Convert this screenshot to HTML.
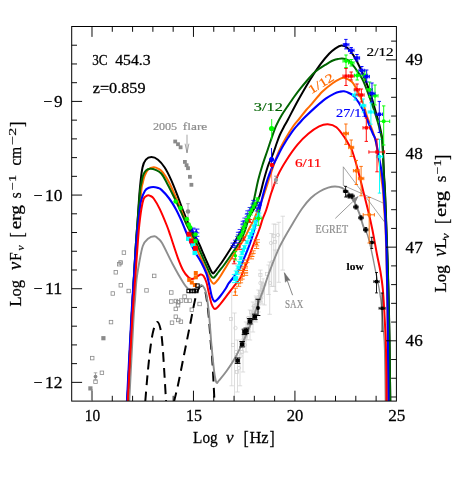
<!DOCTYPE html>
<html><head><meta charset="utf-8"><title>3C 454.3 SED</title>
<style>html,body{margin:0;padding:0;background:#fff}svg{display:block;will-change:transform}text{-webkit-font-smoothing:antialiased}body{font-family:"Liberation Serif",serif}</style>
</head><body>
<svg width="463" height="491" viewBox="0 0 463 491" font-family="'Liberation Serif', serif">
<rect width="463" height="491" fill="#fff"/>
<defs><clipPath id="c"><rect x="71.7" y="26.5" width="324.7" height="374.6"/></clipPath></defs>
<g clip-path="url(#c)">
<path d="M282.8 216.2L282.8 270.1M280.6 216.2L285 216.2M280.6 270.1L285 270.1" stroke="#cfcfcf" stroke-width="0.7" fill="none"/>
<path d="M278.8 222.3L278.8 282.3M276.6 222.3L281 222.3M276.6 282.3L281 282.3" stroke="#cfcfcf" stroke-width="0.7" fill="none"/>
<path d="M275.7 224.3L275.7 291.5M273.5 224.3L277.9 224.3M273.5 291.5L277.9 291.5" stroke="#cfcfcf" stroke-width="0.7" fill="none"/>
<path d="M273.7 224L273.7 286.4M271.5 224L275.9 224M271.5 286.4L275.9 286.4" stroke="#cfcfcf" stroke-width="0.7" fill="none"/>
<path d="M271.6 233.5L271.6 286.4M269.4 233.5L273.8 233.5M269.4 286.4L273.8 286.4" stroke="#cfcfcf" stroke-width="0.7" fill="none"/>
<path d="M268.6 265L268.6 294.5M266.4 265L270.8 265M266.4 294.5L270.8 294.5" stroke="#cfcfcf" stroke-width="0.7" fill="none"/>
<path d="M260.4 270.1L260.4 290.5M258.2 270.1L262.6 270.1M258.2 290.5L262.6 290.5" stroke="#cfcfcf" stroke-width="0.7" fill="none"/>
<path d="M269.7 262L269.7 314.3M267.5 262L271.9 262M267.5 314.3L271.9 314.3" stroke="#cfcfcf" stroke-width="0.7" fill="none"/>
<path d="M275 250L275 291M272.8 250L277.2 250M272.8 291L277.2 291" stroke="#cfcfcf" stroke-width="0.7" fill="none"/>
<path d="M264.5 285L264.5 305M262.3 285L266.7 285M262.3 305L266.7 305" stroke="#cfcfcf" stroke-width="0.7" fill="none"/>
<path d="M231.7 292L231.7 385.8M229.5 292L233.9 292M229.5 385.8L233.9 385.8" stroke="#cfcfcf" stroke-width="0.7" fill="none"/>
<path d="M234.5 313L234.5 404M232.3 313L236.7 313M232.3 404L236.7 404" stroke="#cfcfcf" stroke-width="0.7" fill="none"/>
<path d="M240 353L240 385.8M237.8 353L242.2 353M237.8 385.8L242.2 385.8" stroke="#cfcfcf" stroke-width="0.7" fill="none"/>
<path d="M237.5 340L237.5 392M235.3 340L239.7 340M235.3 392L239.7 392" stroke="#cfcfcf" stroke-width="0.7" fill="none"/>
<path d="M243 330L243 372M240.8 330L245.2 330M240.8 372L245.2 372" stroke="#cfcfcf" stroke-width="0.7" fill="none"/>
<path d="M246 322L246 352M243.8 322L248.2 322M243.8 352L248.2 352" stroke="#cfcfcf" stroke-width="0.7" fill="none"/>
<path d="M250 310L250 340M247.8 310L252.2 310M247.8 340L252.2 340" stroke="#cfcfcf" stroke-width="0.7" fill="none"/>
<path d="M253 302L253 332M250.8 302L255.2 302M250.8 332L255.2 332" stroke="#cfcfcf" stroke-width="0.7" fill="none"/>
<path d="M256 296L256 322M253.8 296L258.2 296M253.8 322L258.2 322" stroke="#cfcfcf" stroke-width="0.7" fill="none"/>
<path d="M258.5 290L258.5 312M256.3 290L260.7 290M256.3 312L260.7 312" stroke="#cfcfcf" stroke-width="0.7" fill="none"/>
<path d="M262 282L262 304M259.8 282L264.2 282M259.8 304L264.2 304" stroke="#cfcfcf" stroke-width="0.7" fill="none"/>
<path d="M242.58 333L242.58 344.62M240.98 333L244.18 333M240.98 344.62L244.18 344.62" stroke="#d4d4d4" stroke-width="0.7" fill="none"/>
<path d="M244.09 334.37L244.09 345.2M242.49 334.37L245.69 334.37M242.49 345.2L245.69 345.2" stroke="#d4d4d4" stroke-width="0.7" fill="none"/>
<path d="M243.89 331.99L243.89 340.79M242.29 331.99L245.49 331.99M242.29 340.79L245.49 340.79" stroke="#d4d4d4" stroke-width="0.7" fill="none"/>
<path d="M245.82 331.02L245.82 340.75M244.22 331.02L247.42 331.02M244.22 340.75L247.42 340.75" stroke="#d4d4d4" stroke-width="0.7" fill="none"/>
<path d="M247.31 326.69L247.31 339.56M245.71 326.69L248.91 326.69M245.71 339.56L248.91 339.56" stroke="#d4d4d4" stroke-width="0.7" fill="none"/>
<path d="M249.14 318.11L249.14 331.85M247.54 318.11L250.74 318.11M247.54 331.85L250.74 331.85" stroke="#d4d4d4" stroke-width="0.7" fill="none"/>
<path d="M248.15 318.55L248.15 332.17M246.55 318.55L249.75 318.55M246.55 332.17L249.75 332.17" stroke="#d4d4d4" stroke-width="0.7" fill="none"/>
<path d="M249.23 316.55L249.23 329.6M247.63 316.55L250.83 316.55M247.63 329.6L250.83 329.6" stroke="#d4d4d4" stroke-width="0.7" fill="none"/>
<path d="M251.11 314.18L251.11 323.51M249.51 314.18L252.71 314.18M249.51 323.51L252.71 323.51" stroke="#d4d4d4" stroke-width="0.7" fill="none"/>
<path d="M252.43 312.07L252.43 324.57M250.83 312.07L254.03 312.07M250.83 324.57L254.03 324.57" stroke="#d4d4d4" stroke-width="0.7" fill="none"/>
<path d="M252.89 306.36L252.89 321.83M251.29 306.36L254.49 306.36M251.29 321.83L254.49 321.83" stroke="#d4d4d4" stroke-width="0.7" fill="none"/>
<path d="M253.39 306.41L253.39 321.41M251.79 306.41L254.99 306.41M251.79 321.41L254.99 321.41" stroke="#d4d4d4" stroke-width="0.7" fill="none"/>
<path d="M255.55 300.04L255.55 313.53M253.95 300.04L257.15 300.04M253.95 313.53L257.15 313.53" stroke="#d4d4d4" stroke-width="0.7" fill="none"/>
<path d="M255.8 303.86L255.8 315.06M254.2 303.86L257.4 303.86M254.2 315.06L257.4 315.06" stroke="#d4d4d4" stroke-width="0.7" fill="none"/>
<path d="M255.89 297.68L255.89 312.37M254.29 297.68L257.49 297.68M254.29 312.37L257.49 312.37" stroke="#d4d4d4" stroke-width="0.7" fill="none"/>
<path d="M258.9 293.59L258.9 308.04M257.3 293.59L260.5 293.59M257.3 308.04L260.5 308.04" stroke="#d4d4d4" stroke-width="0.7" fill="none"/>
<path d="M259.19 290.91L259.19 307.84M257.59 290.91L260.79 290.91M257.59 307.84L260.79 307.84" stroke="#d4d4d4" stroke-width="0.7" fill="none"/>
<path d="M259.94 293.18L259.94 304.99M258.34 293.18L261.54 293.18M258.34 304.99L261.54 304.99" stroke="#d4d4d4" stroke-width="0.7" fill="none"/>
<path d="M261.35 288.36L261.35 301.89M259.75 288.36L262.95 288.36M259.75 301.89L262.95 301.89" stroke="#d4d4d4" stroke-width="0.7" fill="none"/>
<path d="M261.73 288.06L261.73 298.49M260.13 288.06L263.33 288.06M260.13 298.49L263.33 298.49" stroke="#d4d4d4" stroke-width="0.7" fill="none"/>
<path d="M262.2 282.46L262.2 294.59M260.6 282.46L263.8 282.46M260.6 294.59L263.8 294.59" stroke="#d4d4d4" stroke-width="0.7" fill="none"/>
<path d="M263.11 278.78L263.11 293.1M261.51 278.78L264.71 278.78M261.51 293.1L264.71 293.1" stroke="#d4d4d4" stroke-width="0.7" fill="none"/>
<circle cx="278" cy="235" r="1.7" fill="none" stroke="#cfcfcf" stroke-width="0.7"/>
<rect x="272.4" y="234.4" width="3.2" height="3.2" fill="none" stroke="#cfcfcf" stroke-width="0.7"/>
<circle cx="271" cy="243" r="1.7" fill="none" stroke="#cfcfcf" stroke-width="0.7"/>
<rect x="273.4" y="240.4" width="3.2" height="3.2" fill="none" stroke="#cfcfcf" stroke-width="0.7"/>
<circle cx="272" cy="262" r="1.7" fill="none" stroke="#cfcfcf" stroke-width="0.7"/>
<rect x="265.4" y="272.4" width="3.2" height="3.2" fill="none" stroke="#cfcfcf" stroke-width="0.7"/>
<circle cx="270" cy="283" r="1.7" fill="none" stroke="#cfcfcf" stroke-width="0.7"/>
<rect x="258.8" y="273.4" width="3.2" height="3.2" fill="none" stroke="#cfcfcf" stroke-width="0.7"/>
<circle cx="260.4" cy="283" r="1.7" fill="none" stroke="#cfcfcf" stroke-width="0.7"/>
<rect x="229.4" y="317.4" width="3.2" height="3.2" fill="none" stroke="#cfcfcf" stroke-width="0.7"/>
<circle cx="235.5" cy="328" r="1.7" fill="none" stroke="#cfcfcf" stroke-width="0.7"/>
<rect x="231.4" y="343.4" width="3.2" height="3.2" fill="none" stroke="#cfcfcf" stroke-width="0.7"/>
<circle cx="236" cy="352" r="1.7" fill="none" stroke="#cfcfcf" stroke-width="0.7"/>
<rect x="236.4" y="360.4" width="3.2" height="3.2" fill="none" stroke="#cfcfcf" stroke-width="0.7"/>
<circle cx="240.5" cy="356" r="1.7" fill="none" stroke="#cfcfcf" stroke-width="0.7"/>
<rect x="239.4" y="347.4" width="3.2" height="3.2" fill="none" stroke="#cfcfcf" stroke-width="0.7"/>
<circle cx="243" cy="343" r="1.7" fill="none" stroke="#cfcfcf" stroke-width="0.7"/>
<rect x="242.9" y="336.4" width="3.2" height="3.2" fill="none" stroke="#cfcfcf" stroke-width="0.7"/>
<circle cx="246" cy="333" r="1.7" fill="none" stroke="#cfcfcf" stroke-width="0.7"/>
<rect x="245.9" y="327.4" width="3.2" height="3.2" fill="none" stroke="#cfcfcf" stroke-width="0.7"/>
<circle cx="249" cy="325" r="1.7" fill="none" stroke="#cfcfcf" stroke-width="0.7"/>
<rect x="248.9" y="319.4" width="3.2" height="3.2" fill="none" stroke="#cfcfcf" stroke-width="0.7"/>
<circle cx="252" cy="317" r="1.7" fill="none" stroke="#cfcfcf" stroke-width="0.7"/>
<rect x="251.9" y="311.4" width="3.2" height="3.2" fill="none" stroke="#cfcfcf" stroke-width="0.7"/>
<circle cx="255" cy="309" r="1.7" fill="none" stroke="#cfcfcf" stroke-width="0.7"/>
<rect x="254.9" y="303.4" width="3.2" height="3.2" fill="none" stroke="#cfcfcf" stroke-width="0.7"/>
<circle cx="258" cy="301" r="1.7" fill="none" stroke="#cfcfcf" stroke-width="0.7"/>
<rect x="257.9" y="295.4" width="3.2" height="3.2" fill="none" stroke="#cfcfcf" stroke-width="0.7"/>
<circle cx="261" cy="293" r="1.7" fill="none" stroke="#cfcfcf" stroke-width="0.7"/>
<rect x="260.9" y="288.4" width="3.2" height="3.2" fill="none" stroke="#cfcfcf" stroke-width="0.7"/>
<circle cx="248" cy="318" r="1.7" fill="none" stroke="#cfcfcf" stroke-width="0.7"/>
<rect x="249.4" y="310.4" width="3.2" height="3.2" fill="none" stroke="#cfcfcf" stroke-width="0.7"/>
<circle cx="254" cy="306" r="1.7" fill="none" stroke="#cfcfcf" stroke-width="0.7"/>
<rect x="255.4" y="298.4" width="3.2" height="3.2" fill="none" stroke="#cfcfcf" stroke-width="0.7"/>
<circle cx="245" cy="345" r="1.7" fill="none" stroke="#cfcfcf" stroke-width="0.7"/>
<rect x="240.4" y="350.4" width="3.2" height="3.2" fill="none" stroke="#cfcfcf" stroke-width="0.7"/>
<circle cx="239" cy="368" r="1.7" fill="none" stroke="#cfcfcf" stroke-width="0.7"/>
<rect x="235.4" y="370.4" width="3.2" height="3.2" fill="none" stroke="#cfcfcf" stroke-width="0.7"/>
<circle cx="242.58" cy="340.25" r="1.7" fill="none" stroke="#cfcfcf" stroke-width="0.7"/>
<rect x="242.49" y="337.06" width="3.2" height="3.2" fill="none" stroke="#cfcfcf" stroke-width="0.7"/>
<circle cx="243.89" cy="336.33" r="1.7" fill="none" stroke="#cfcfcf" stroke-width="0.7"/>
<rect x="244.22" y="334.03" width="3.2" height="3.2" fill="none" stroke="#cfcfcf" stroke-width="0.7"/>
<circle cx="247.31" cy="333.57" r="1.7" fill="none" stroke="#cfcfcf" stroke-width="0.7"/>
<rect x="247.54" y="324.8" width="3.2" height="3.2" fill="none" stroke="#cfcfcf" stroke-width="0.7"/>
<circle cx="248.15" cy="324.09" r="1.7" fill="none" stroke="#cfcfcf" stroke-width="0.7"/>
<rect x="247.63" y="322.14" width="3.2" height="3.2" fill="none" stroke="#cfcfcf" stroke-width="0.7"/>
<circle cx="251.11" cy="318.48" r="1.7" fill="none" stroke="#cfcfcf" stroke-width="0.7"/>
<rect x="250.83" y="316.04" width="3.2" height="3.2" fill="none" stroke="#cfcfcf" stroke-width="0.7"/>
<circle cx="252.89" cy="314.33" r="1.7" fill="none" stroke="#cfcfcf" stroke-width="0.7"/>
<rect x="251.79" y="311.44" width="3.2" height="3.2" fill="none" stroke="#cfcfcf" stroke-width="0.7"/>
<circle cx="255.55" cy="308.94" r="1.7" fill="none" stroke="#cfcfcf" stroke-width="0.7"/>
<rect x="254.2" y="307.02" width="3.2" height="3.2" fill="none" stroke="#cfcfcf" stroke-width="0.7"/>
<circle cx="255.89" cy="305.51" r="1.7" fill="none" stroke="#cfcfcf" stroke-width="0.7"/>
<rect x="257.3" y="299.47" width="3.2" height="3.2" fill="none" stroke="#cfcfcf" stroke-width="0.7"/>
<circle cx="259.19" cy="299.11" r="1.7" fill="none" stroke="#cfcfcf" stroke-width="0.7"/>
<rect x="258.34" y="295.89" width="3.2" height="3.2" fill="none" stroke="#cfcfcf" stroke-width="0.7"/>
<circle cx="261.35" cy="296.47" r="1.7" fill="none" stroke="#cfcfcf" stroke-width="0.7"/>
<rect x="260.13" y="290.58" width="3.2" height="3.2" fill="none" stroke="#cfcfcf" stroke-width="0.7"/>
<circle cx="262.2" cy="286.75" r="1.7" fill="none" stroke="#cfcfcf" stroke-width="0.7"/>
<rect x="261.51" y="283.14" width="3.2" height="3.2" fill="none" stroke="#cfcfcf" stroke-width="0.7"/>
<rect x="122.15" y="250.85" width="3.5" height="3.5" fill="none" stroke="#8a8a8a" stroke-width="0.8"/>
<rect x="118.85" y="260.75" width="3.5" height="3.5" fill="none" stroke="#8a8a8a" stroke-width="0.8"/>
<rect x="117.45" y="262.45" width="3.5" height="3.5" fill="none" stroke="#8a8a8a" stroke-width="0.8"/>
<rect x="114.05" y="270.55" width="3.5" height="3.5" fill="none" stroke="#8a8a8a" stroke-width="0.8"/>
<rect x="119.05" y="283.55" width="3.5" height="3.5" fill="none" stroke="#8a8a8a" stroke-width="0.8"/>
<rect x="111.05" y="291.75" width="3.5" height="3.5" fill="none" stroke="#8a8a8a" stroke-width="0.8"/>
<rect x="126.95" y="289.25" width="3.5" height="3.5" fill="none" stroke="#8a8a8a" stroke-width="0.8"/>
<rect x="144.75" y="288.65" width="3.5" height="3.5" fill="none" stroke="#8a8a8a" stroke-width="0.8"/>
<rect x="109.25" y="320.35" width="3.5" height="3.5" fill="none" stroke="#8a8a8a" stroke-width="0.8"/>
<rect x="90.45" y="356.35" width="3.5" height="3.5" fill="none" stroke="#8a8a8a" stroke-width="0.8"/>
<rect x="100.15" y="371.05" width="3.5" height="3.5" fill="none" stroke="#8a8a8a" stroke-width="0.8"/>
<rect x="93.75" y="380.05" width="3.5" height="3.5" fill="none" stroke="#8a8a8a" stroke-width="0.8"/>
<rect x="152.45" y="274.15" width="3.5" height="3.5" fill="none" stroke="#8a8a8a" stroke-width="0.8"/>
<rect x="169.55" y="290.75" width="3.5" height="3.5" fill="none" stroke="#8a8a8a" stroke-width="0.8"/>
<rect x="169.55" y="299.75" width="3.5" height="3.5" fill="none" stroke="#8a8a8a" stroke-width="0.8"/>
<rect x="174.15" y="299.25" width="3.5" height="3.5" fill="none" stroke="#8a8a8a" stroke-width="0.8"/>
<rect x="176.55" y="300.55" width="3.5" height="3.5" fill="none" stroke="#8a8a8a" stroke-width="0.8"/>
<rect x="179.35" y="298.85" width="3.5" height="3.5" fill="none" stroke="#8a8a8a" stroke-width="0.8"/>
<rect x="182.85" y="294.85" width="3.5" height="3.5" fill="none" stroke="#8a8a8a" stroke-width="0.8"/>
<rect x="184.55" y="298.85" width="3.5" height="3.5" fill="none" stroke="#8a8a8a" stroke-width="0.8"/>
<rect x="187.95" y="298.85" width="3.5" height="3.5" fill="none" stroke="#8a8a8a" stroke-width="0.8"/>
<rect x="176.25" y="303.45" width="3.5" height="3.5" fill="none" stroke="#8a8a8a" stroke-width="0.8"/>
<rect x="174.05" y="307.15" width="3.5" height="3.5" fill="none" stroke="#8a8a8a" stroke-width="0.8"/>
<rect x="190.05" y="307.95" width="3.5" height="3.5" fill="none" stroke="#8a8a8a" stroke-width="0.8"/>
<rect x="197.85" y="302.25" width="3.5" height="3.5" fill="none" stroke="#8a8a8a" stroke-width="0.8"/>
<rect x="174.05" y="314.95" width="3.5" height="3.5" fill="none" stroke="#8a8a8a" stroke-width="0.8"/>
<rect x="176.55" y="318.25" width="3.5" height="3.5" fill="none" stroke="#8a8a8a" stroke-width="0.8"/>
<rect x="179.15" y="319.95" width="3.5" height="3.5" fill="none" stroke="#8a8a8a" stroke-width="0.8"/>
<rect x="170.25" y="320.95" width="3.5" height="3.5" fill="none" stroke="#8a8a8a" stroke-width="0.8"/>
<circle cx="120.6" cy="262.5" r="1.5" fill="none" stroke="#8a8a8a" stroke-width="0.6"/>
<rect x="101.3" y="336.1" width="4.2" height="4.2" fill="#8a8a8a"/>
<rect x="88.3" y="386.3" width="4.2" height="4.2" fill="#8a8a8a"/>
<path d="M95.5 372.8L95.5 379.8M93.7 372.8L97.3 372.8M93.7 379.8L97.3 379.8" stroke="#8a8a8a" stroke-width="0.7" fill="none"/>
<circle cx="95.5" cy="376.6" r="1.9" fill="#8a8a8a"/>
<rect x="173.3" y="139.6" width="3.8" height="3.8" fill="#8a8a8a"/>
<rect x="176.1" y="142.3" width="3.8" height="3.8" fill="#8a8a8a"/>
<rect x="178.7" y="145.4" width="3.8" height="3.8" fill="#8a8a8a"/>
<rect x="183" y="160" width="3.8" height="3.8" fill="#8a8a8a"/>
<rect x="184.7" y="163.3" width="3.8" height="3.8" fill="#8a8a8a"/>
<rect x="186.1" y="166.3" width="3.8" height="3.8" fill="#8a8a8a"/>
<rect x="188" y="174.9" width="3.8" height="3.8" fill="#8a8a8a"/>
<rect x="189.5" y="182.9" width="3.8" height="3.8" fill="#8a8a8a"/>
<path d="M188 203.7L188 220M186.2 203.7L189.8 203.7M186.2 220L189.8 220" stroke="#8a8a8a" stroke-width="0.7" fill="none"/>
<circle cx="188" cy="211.5" r="2.3" fill="#8a8a8a"/>
<path d="M187 134.7V152.8M185.1 143.7L187 152.8L188.9 143.7" stroke="#808080" stroke-width="0.7" fill="none"/>
<path d="M343.3 166.8L384.3 221.7V203.5L343.3 185.4Z" stroke="#808080" stroke-width="0.7" fill="none"/>
<path d="M145.3 401.2C145.67 396.83 146.63 384.03 147.5 375C148.37 365.97 149.5 354.5 150.5 347C151.5 339.5 152.37 334.17 153.5 330C154.63 325.83 156.13 322.17 157.3 322C158.47 321.83 159.63 325.17 160.5 329C161.37 332.83 161.87 337.83 162.5 345C163.13 352.17 163.68 362.17 164.3 372C164.92 381.83 165.88 398.67 166.2 404" fill="none" stroke="#000" stroke-width="2" stroke-dasharray="9.8 6.2"/>
<path d="M173.9 402C174.58 399.17 176.32 392.83 178 385C179.68 377.17 182 365 184 355C186 345 188.17 334.17 190 325C191.83 315.83 193.67 305.83 195 300C196.33 294.17 197 292.37 198 290C199 287.63 200.03 286.1 201 285.8C201.97 285.5 202.97 286.67 203.8 288.2C204.63 289.73 205.2 290.53 206 295C206.8 299.47 207.8 306.97 208.6 315C209.4 323.03 210.13 334.9 210.8 343.2C211.47 351.5 211.97 354.67 212.6 364.8C213.23 374.93 214.27 397.47 214.6 404" fill="none" stroke="#000" stroke-width="2" stroke-dasharray="9.8 6.2"/>
<path d="M129.1 404C129.83 390 132.52 337.33 133.5 320C134.48 302.67 134.5 306.67 135 300C135.5 293.33 135.83 286 136.5 280C137.17 274 137.95 269.67 139 264C140.05 258.33 141.3 250.22 142.8 246C144.3 241.78 146.07 240.32 148 238.7C149.93 237.08 152.73 236.33 154.4 236.3C156.07 236.27 156.7 237.33 158 238.5C159.3 239.67 159.77 239.05 162.2 243.3C164.63 247.55 169.13 257.52 172.6 264C176.07 270.48 180.42 278.08 183 282.2C185.58 286.32 186.43 287.43 188.1 288.7C189.77 289.97 191.23 290.12 193 289.8C194.77 289.48 197.2 287.55 198.7 286.8C200.2 286.05 201.03 285.02 202 285.3C202.97 285.58 203.75 286.88 204.5 288.5C205.25 290.12 205.73 290.58 206.5 295C207.27 299.42 208.3 306.97 209.1 315C209.9 323.03 210.58 334.9 211.3 343.2C212.02 351.5 212.78 359.17 213.4 364.8C214.02 370.43 214.45 373.98 215 377C215.55 380.02 216.03 382.32 216.7 382.9C217.37 383.48 217.38 382.43 219 380.5C220.62 378.57 223.73 375.05 226.4 371.3C229.07 367.55 232.17 363.02 235 358C237.83 352.98 240.62 347.27 243.4 341.2C246.18 335.13 249.02 328.47 251.7 321.6C254.38 314.73 257.45 305.6 259.5 300C261.55 294.4 262.42 292.5 264 288C265.58 283.5 266.37 279.93 269 273C271.63 266.07 275.7 254.9 279.8 246.4C283.9 237.9 289.85 228.37 293.6 222C297.35 215.63 299.42 212.2 302.3 208.2C305.18 204.2 308.02 200.78 310.9 198C313.78 195.22 316.72 193.22 319.6 191.5C322.48 189.78 325.62 188.53 328.2 187.7C330.78 186.87 332.8 186.47 335.1 186.5C337.4 186.53 339.7 186.78 342 187.9C344.3 189.02 346.88 190.97 348.9 193.2C350.92 195.43 352.37 197.93 354.1 201.3C355.83 204.67 357.72 209.08 359.3 213.4C360.88 217.72 362.23 223.6 363.6 227.2" fill="none" stroke="#8e8e8e" stroke-width="1.9" stroke-linecap="round"/>
<path d="M363.6 227.2C364.97 230.8 366.22 231.2 367.5 235C368.78 238.8 369.98 244.12 371.3 250C372.62 255.88 374.03 263.52 375.4 270.3C376.77 277.08 378.38 283.92 379.5 290.7C380.62 297.48 381.43 304.23 382.1 311C382.77 317.77 383.08 324.8 383.5 331.3C383.92 337.8 384.28 337.88 384.6 350C384.92 362.12 385.27 395 385.4 404" fill="none" stroke="#8e8e8e" stroke-width="1.35"/>
<path d="M127.3 404C128 390 130.13 345.67 131.5 320C132.87 294.33 134.53 265.83 135.5 250C136.47 234.17 136.57 235.3 137.3 225C138.03 214.7 139.03 197.78 139.9 188.2C140.77 178.62 141.5 172.25 142.5 167.5C143.5 162.75 144.42 161.43 145.9 159.7C147.38 157.97 149.38 157.1 151.4 157.1C153.42 157.1 155.78 157.97 158 159.7C160.22 161.43 162.53 164.18 164.7 167.5C166.87 170.82 168.9 175 171 179.6C173.1 184.2 175.27 189.87 177.3 195.1C179.33 200.33 181.05 205.62 183.2 211C185.35 216.38 187.62 222.07 190.2 227.4C192.78 232.73 196.42 238.4 198.7 243C200.98 247.6 202.27 251.25 203.9 255C205.53 258.75 207.32 262.87 208.5 265.5C209.68 268.13 210.23 269.48 211 270.8C211.77 272.12 212.38 273.33 213.1 273.4C213.82 273.47 214.55 272.1 215.3 271.2C216.05 270.3 216.53 269.45 217.6 268C218.67 266.55 219.98 265 221.7 262.5C223.42 260 225.82 256.25 227.9 253C229.98 249.75 231.77 247.08 234.2 243C236.63 238.92 240.03 232.83 242.5 228.5C244.97 224.17 246.82 220.75 249 217C251.18 213.25 253.78 209.67 255.6 206C257.42 202.33 258.53 199.33 259.9 195C261.27 190.67 262.4 185 263.8 180C265.2 175 266.77 169.33 268.3 165C269.83 160.67 271.58 157.67 273 154C274.42 150.33 275.67 146.17 276.8 143C277.93 139.83 278.67 137.58 279.8 135C280.93 132.42 282.23 130.08 283.6 127.5C284.97 124.92 285.6 124 288 119.5C290.4 115 294.32 107.13 298 100.5C301.68 93.87 306.35 85.75 310.1 79.7C313.85 73.65 317.33 68.52 320.5 64.2C323.67 59.88 326.6 56.45 329.1 53.8C331.6 51.15 333.43 49.67 335.5 48.3C337.57 46.93 339.5 45.65 341.5 45.6C343.5 45.55 345.52 46.38 347.5 48C349.48 49.62 351.35 52.1 353.4 55.3C355.45 58.5 357.65 62.7 359.8 67.2C361.95 71.7 364.4 77.5 366.3 82.3C368.2 87.1 369.7 91.33 371.2 96C372.7 100.67 373.93 105.47 375.3 110.3C376.67 115.13 378.42 121.22 379.4 125C380.38 128.78 380.72 130.5 381.2 133C381.68 135.5 381.97 136.33 382.3 140C382.63 143.67 382.93 149.57 383.2 155C383.47 160.43 383.62 166.95 383.9 172.6C384.18 178.25 384.62 183.48 384.9 188.9C385.18 194.32 385.33 198.25 385.6 205.1C385.87 211.95 386.17 220.85 386.5 230C386.83 239.15 387.23 248.33 387.6 260C387.97 271.67 388.38 286.67 388.7 300C389.02 313.33 389.23 322.67 389.5 340C389.77 357.33 390.17 393.33 390.3 404" fill="none" stroke="#000" stroke-width="2.0" stroke-linejoin="round" />
<path d="M127.3 404C128 390 130.08 345.67 131.5 320C132.92 294.33 134.72 265.83 135.8 250C136.88 234.17 137.08 234.88 138 225C138.92 215.12 140.53 197.6 141.3 190.7C142.07 183.8 142.03 186.12 142.6 183.6C143.17 181.08 143.77 177.93 144.7 175.6C145.63 173.27 146.7 170.98 148.2 169.6C149.7 168.22 151.98 167.43 153.7 167.3C155.42 167.17 156.95 167.92 158.5 168.8C160.05 169.68 161.18 170.23 163 172.6C164.82 174.97 167.3 178.97 169.4 183C171.5 187.03 173.73 192.55 175.6 196.8C177.47 201.05 179.03 204.63 180.6 208.5C182.17 212.37 183.43 216.08 185 220C186.57 223.92 187.93 226.93 190 232C192.07 237.07 195.08 244.88 197.4 250.4C199.72 255.92 202.05 260.83 203.9 265.1C205.75 269.37 207.28 273.32 208.5 276C209.72 278.68 210.35 279.92 211.2 281.2C212.05 282.48 212.8 283.57 213.6 283.7C214.4 283.83 215.23 282.73 216 282C216.77 281.27 217.37 280.42 218.2 279.3C219.03 278.18 219.5 277.68 221 275.3C222.5 272.92 225.33 268.05 227.2 265C229.07 261.95 230.63 259.5 232.2 257C233.77 254.5 234.72 252.83 236.6 250C238.48 247.17 241.43 243.5 243.5 240C245.57 236.5 247.3 232.37 249 229C250.7 225.63 251.4 225 253.7 219.8C256 214.6 260.08 205.1 262.8 197.8C265.52 190.5 267.45 183.43 270 176C272.55 168.57 275.6 159.28 278.1 153.2C280.6 147.12 282.48 144 285 139.5C287.52 135 290.78 129.7 293.2 126.2C295.62 122.7 297.33 121.2 299.5 118.5C301.67 115.8 304.15 112.43 306.2 110C308.25 107.57 309.13 106.93 311.8 103.9C314.47 100.87 318.73 95.25 322.2 91.8C325.67 88.35 329.63 85.35 332.6 83.2C335.57 81.05 338.05 79.78 340 78.9C341.95 78.02 342.33 77.42 344.3 77.9C346.27 78.38 349.85 80.12 351.8 81.8C353.75 83.48 354.55 85.47 356 88C357.45 90.53 359.17 94 360.5 97C361.83 100 362.92 102.77 364 106C365.08 109.23 365.75 112.73 367 116.4C368.25 120.07 370.1 124.07 371.5 128C372.9 131.93 374.15 134.67 375.4 140C376.65 145.33 377.97 153.33 379 160C380.03 166.67 380.93 174.83 381.6 180C382.27 185.17 382.6 186.5 383 191C383.4 195.5 383.57 200.5 384 207C384.43 213.5 385.05 214.5 385.6 230C386.15 245.5 386.85 271 387.3 300C387.75 329 388.13 386.67 388.3 404" fill="none" stroke="#ff6a00" stroke-width="2.0" stroke-linejoin="round" />
<path d="M127.3 404C128 390 130.13 345.67 131.5 320C132.87 294.33 134.53 265.83 135.5 250C136.47 234.17 136.53 234.88 137.3 225C138.07 215.12 139.43 197.6 140.1 190.7C140.77 183.8 140.8 186.15 141.3 183.6C141.8 181.05 142.32 177.58 143.1 175.4C143.88 173.22 144.82 171.6 146 170.5C147.18 169.4 148.62 168.92 150.2 168.8C151.78 168.68 153.65 169.02 155.5 169.8C157.35 170.58 159.32 171.15 161.3 173.5C163.28 175.85 165.3 180.02 167.4 183.9C169.5 187.78 171.6 192.05 173.9 196.8C176.2 201.55 179.05 207.7 181.2 212.4C183.35 217.1 185 221.4 186.8 225C188.6 228.6 190.33 230.83 192 234C193.67 237.17 195.08 240.27 196.8 244C198.52 247.73 200.58 252.52 202.3 256.4C204.02 260.28 205.73 264.2 207.1 267.3C208.47 270.4 209.48 273.25 210.5 275C211.52 276.75 212.32 277.7 213.2 277.8C214.08 277.9 214.92 276.57 215.8 275.6C216.68 274.63 217.13 273.77 218.5 272C219.87 270.23 222.2 267.42 224 265C225.8 262.58 227.57 260 229.3 257.5C231.03 255 232.47 252.92 234.4 250C236.33 247.08 239.22 243 240.9 240C242.58 237 243.48 234.67 244.5 232C245.52 229.33 246.2 226.5 247 224C247.8 221.5 248.63 219.25 249.3 217C249.97 214.75 250.35 212.83 251 210.5C251.65 208.17 252.53 205.58 253.2 203C253.87 200.42 254.17 198.83 255 195C255.83 191.17 256.95 185 258.2 180C259.45 175 260.93 170 262.5 165C264.07 160 266.12 154.4 267.6 150C269.08 145.6 269.97 142.67 271.4 138.6C272.83 134.53 274.52 129.45 276.2 125.6C277.88 121.75 279.6 118.72 281.5 115.5C283.4 112.28 285.52 109.38 287.6 106.3C289.68 103.22 291.82 100.02 294 97C296.18 93.98 298.45 91.03 300.7 88.2C302.95 85.37 305.38 82.47 307.5 80C309.62 77.53 311.73 75.07 313.4 73.4C315.07 71.73 316.18 71 317.5 70C318.82 69 320 68.25 321.3 67.4C322.6 66.55 323.97 65.73 325.3 64.9C326.63 64.07 327.93 63.17 329.3 62.4C330.67 61.63 332.05 60.87 333.5 60.3C334.95 59.73 336.55 59.3 338 59C339.45 58.7 340.62 58.35 342.2 58.5C343.78 58.65 346 59.13 347.5 59.9C349 60.67 349.5 61.13 351.2 63.1C352.9 65.07 355.72 68.78 357.7 71.7C359.68 74.62 361.12 76.33 363.1 80.6C365.08 84.87 367.85 92.62 369.6 97.3C371.35 101.98 372.25 104.62 373.6 108.7C374.95 112.78 376.53 117.75 377.7 121.8C378.87 125.85 379.87 129.97 380.6 133C381.33 136.03 381.7 136.33 382.1 140C382.5 143.67 382.73 149.57 383 155C383.27 160.43 383.42 166.95 383.7 172.6C383.98 178.25 384.42 183.48 384.7 188.9C384.98 194.32 385.12 198.25 385.4 205.1C385.68 211.95 386.05 220.85 386.4 230C386.75 239.15 387.13 248.33 387.5 260C387.87 271.67 388.27 286.67 388.6 300C388.93 313.33 389.22 322.67 389.5 340C389.78 357.33 390.17 393.33 390.3 404" fill="none" stroke="#006400" stroke-width="2.0" stroke-linejoin="round" />
<path d="M126.8 404C127.53 390 130.05 340.67 131.2 320C132.35 299.33 132.82 293.33 133.7 280C134.58 266.67 135.58 251 136.5 240C137.42 229 138.42 220.62 139.2 214C139.98 207.38 140.23 204.17 141.2 200.3C142.17 196.43 143.7 192.88 145 190.8C146.3 188.72 147.63 188.43 149 187.8C150.37 187.17 151.78 187 153.2 187C154.62 187 156.12 187.32 157.5 187.8C158.88 188.28 159.55 188.12 161.5 189.9C163.45 191.68 166.82 195.33 169.2 198.5C171.58 201.67 173.87 205.43 175.8 208.9C177.73 212.37 179.22 215.78 180.8 219.3C182.38 222.82 183.62 225.97 185.3 230C186.98 234.03 189.32 239.87 190.9 243.5C192.48 247.13 193.07 248.63 194.8 251.8C196.53 254.97 199.35 258.82 201.3 262.5C203.25 266.18 205.1 269.85 206.5 273.9C207.9 277.95 208.82 283.03 209.7 286.8C210.58 290.57 211.03 294.07 211.8 296.5C212.57 298.93 213.47 300.82 214.3 301.4C215.13 301.98 215.85 300.82 216.8 300C217.75 299.18 218.57 298.33 220 296.5C221.43 294.67 223.98 291.17 225.4 289C226.82 286.83 227.43 285.08 228.5 283.5C229.57 281.92 230.15 281.67 231.8 279.5C233.45 277.33 236.88 272.75 238.4 270.5C239.92 268.25 239.62 268.87 240.9 266C242.18 263.13 244.58 257.05 246.1 253.3C247.62 249.55 248.72 247.13 250 243.5C251.28 239.87 252.27 236.92 253.8 231.5C255.33 226.08 257.67 217.08 259.2 211C260.73 204.92 261.65 200.17 263 195C264.35 189.83 265.75 184.67 267.3 180C268.85 175.33 270.77 170.58 272.3 167C273.83 163.42 275.13 161.25 276.5 158.5C277.87 155.75 279.17 153 280.5 150.5C281.83 148 283.22 145.67 284.5 143.5C285.78 141.33 286.7 139.78 288.2 137.5C289.7 135.22 291.7 132.13 293.5 129.8C295.3 127.47 297.17 125.53 299 123.5C300.83 121.47 301.78 120.28 304.5 117.6C307.22 114.92 311.77 110.55 315.3 107.4C318.83 104.25 322.53 101 325.7 98.7C328.87 96.4 331.92 94.77 334.3 93.6C336.68 92.43 338.38 92.08 340 91.7C341.62 91.32 342.5 91.08 344 91.3C345.5 91.52 347.17 92 349 93C350.83 94 352.67 94.5 355 97.3C357.33 100.1 360.63 105.2 363 109.8C365.37 114.4 367.53 120.87 369.2 124.9C370.87 128.93 371.93 131.48 373 134C374.07 136.52 374.68 136.5 375.6 140C376.52 143.5 377.47 149.57 378.5 155C379.53 160.43 380.98 166.95 381.8 172.6C382.62 178.25 382.95 183.48 383.4 188.9C383.85 194.32 384.17 199.92 384.5 205.1C384.83 210.28 385.07 212.52 385.4 220C385.73 227.48 386.17 236.67 386.5 250C386.83 263.33 387.2 288.33 387.4 300C387.6 311.67 387.52 302.67 387.7 320C387.88 337.33 388.37 390 388.5 404" fill="none" stroke="#0000ff" stroke-width="2.1" stroke-linejoin="round" />
<path d="M127.6 404C128.37 390 130.95 340.67 132.2 320C133.45 299.33 134.13 293.33 135.1 280C136.07 266.67 137.3 249.17 138 240C138.7 230.83 138.73 230.18 139.3 225C139.87 219.82 140.65 213.32 141.4 208.9C142.15 204.48 142.77 200.75 143.8 198.5C144.83 196.25 146.48 195.82 147.6 195.4C148.72 194.98 149.48 195.48 150.5 196C151.52 196.52 152.17 196.35 153.7 198.5C155.23 200.65 157.55 204.48 159.7 208.9C161.85 213.32 164.85 220.65 166.6 225C168.35 229.35 168.3 229.45 170.2 235C172.1 240.55 175.83 252.4 178 258.3C180.17 264.2 181.47 267.23 183.2 270.4C184.93 273.57 186.97 275.87 188.4 277.3C189.83 278.73 190.52 279 191.8 279C193.08 279 194.67 278.05 196.1 277.3C197.53 276.55 199.17 274.75 200.4 274.5C201.63 274.25 202.48 274.47 203.5 275.8C204.52 277.13 205.67 279.92 206.5 282.5C207.33 285.08 207.68 287.8 208.5 291.3C209.32 294.8 210.45 300.6 211.4 303.5C212.35 306.4 213.27 307.98 214.2 308.7C215.13 309.42 216.03 308.5 217 307.8C217.97 307.1 218.08 306.9 220 304.5C221.92 302.1 226.33 296.23 228.5 293.4C230.67 290.57 231.35 289.65 233 287.5C234.65 285.35 237.08 282.28 238.4 280.5C239.72 278.72 239.4 280.08 240.9 276.8C242.4 273.52 245.23 266.35 247.4 260.8C249.57 255.25 251.95 248.63 253.9 243.5C255.85 238.37 257.62 234.17 259.1 230C260.58 225.83 261.62 221.83 262.8 218.5C263.98 215.17 264.73 214.42 266.2 210C267.67 205.58 269.62 197.87 271.6 192C273.58 186.13 275.58 180.18 278.1 174.8C280.62 169.42 283.47 164.73 286.7 159.7C289.93 154.67 293.9 148.92 297.5 144.6C301.1 140.28 304.7 136.83 308.3 133.8C311.9 130.77 315.85 128 319.1 126.4C322.35 124.8 324.92 124.05 327.8 124.2C330.68 124.35 333.53 124.98 336.4 127.3C339.27 129.62 342.73 134.87 345 138.1C347.27 141.33 348.83 144.67 350 146.7C351.17 148.73 350.65 146.3 352 150.3C353.35 154.3 356.23 163.92 358.1 170.7C359.97 177.48 361.5 184.23 363.2 191C364.9 197.77 366.77 204.83 368.3 211.3C369.83 217.77 370.95 222.6 372.4 229.8C373.85 237 375.65 247.5 377 254.5C378.35 261.5 379.53 266.05 380.5 271.8C381.47 277.55 382.17 282.47 382.8 289C383.43 295.53 383.88 304 384.3 311C384.72 318 385.02 324.5 385.3 331C385.58 337.5 385.78 337.83 386 350C386.22 362.17 386.5 395 386.6 404" fill="none" stroke="#ff0000" stroke-width="2.0" stroke-linejoin="round" />
<path d="M256.8 239.7V242.3M253.7 239.7H259.9M253.7 242.3H259.9" stroke="#ff6a00" stroke-width="0.85" fill="none"/>
<path d="M256.6 245.9V248.5M254 245.9H259.2M254 248.5H259.2" stroke="#ff6a00" stroke-width="0.85" fill="none"/>
<path d="M253.2 250.8V253.4M250.7 250.8H255.7M250.7 253.4H255.7" stroke="#ff6a00" stroke-width="0.85" fill="none"/>
<path d="M252 253.9V256.5M249.5 253.9H254.5M249.5 256.5H254.5" stroke="#ff6a00" stroke-width="0.85" fill="none"/>
<path d="M251 256.3V258.9M248 256.3H254M248 258.9H254" stroke="#ff6a00" stroke-width="0.85" fill="none"/>
<path d="M246.4 260V262.6M243.3 260H249.5M243.3 262.6H249.5" stroke="#ff6a00" stroke-width="0.85" fill="none"/>
<path d="M244.5 263.7V266.3M241 263.7H248M241 266.3H248" stroke="#ff6a00" stroke-width="0.85" fill="none"/>
<path d="M242.4 268V270.6M236.8 268H248M236.8 270.6H248" stroke="#ff6a00" stroke-width="0.85" fill="none"/>
<path d="M243 270.4V273M238 270.4H248M238 273H248" stroke="#ff6a00" stroke-width="0.85" fill="none"/>
<path d="M244.5 272.8V275.4M240.8 272.8H248.2M240.8 275.4H248.2" stroke="#ff6a00" stroke-width="0.85" fill="none"/>
<path d="M242.2 276.5V279.1M239.7 276.5H244.7M239.7 279.1H244.7" stroke="#ff6a00" stroke-width="0.85" fill="none"/>
<path d="M240.5 280.2V282.8M237.9 280.2H243.1M237.9 282.8H243.1" stroke="#ff6a00" stroke-width="0.85" fill="none"/>
<path d="M238.6 283.7V286.3M236 283.7H241.2M236 286.3H241.2" stroke="#ff6a00" stroke-width="0.85" fill="none"/>
<path d="M256.6 241.4L254.69 244.92L258.51 244.92Z" fill="#ff6a00"/>
<path d="M235.3 288.2L235.3 295.4M232.7 288.2L237.9 288.2M232.7 295.4L237.9 295.4" stroke="#ff6a00" stroke-width="0.95" fill="none"/>
<circle cx="235.3" cy="291.9" r="1.1" fill="#ff6a00"/>
<path d="M236.5 270.9V274.1M233.7 270.9H239.3M233.7 274.1H239.3" stroke="#00ffff" stroke-width="0.8" fill="none"/>
<rect x="234.85" y="270.85" width="3.3" height="3.3" fill="#00ffff"/>
<path d="M238.2 265.9V269.1M235.4 265.9H241M235.4 269.1H241" stroke="#00ffff" stroke-width="0.8" fill="none"/>
<rect x="236.55" y="265.85" width="3.3" height="3.3" fill="#00ffff"/>
<path d="M239.7 261.5V264.7M236.9 261.5H242.5M236.9 264.7H242.5" stroke="#00ffff" stroke-width="0.8" fill="none"/>
<rect x="238.05" y="261.45" width="3.3" height="3.3" fill="#00ffff"/>
<path d="M240.9 256.6V259.8M238.1 256.6H243.7M238.1 259.8H243.7" stroke="#00ffff" stroke-width="0.8" fill="none"/>
<rect x="239.25" y="256.55" width="3.3" height="3.3" fill="#00ffff"/>
<path d="M242.1 251.7V254.9M239.3 251.7H244.9M239.3 254.9H244.9" stroke="#00ffff" stroke-width="0.8" fill="none"/>
<rect x="240.45" y="251.65" width="3.3" height="3.3" fill="#00ffff"/>
<path d="M243.4 248.4V251.6M240.6 248.4H246.2M240.6 251.6H246.2" stroke="#00ffff" stroke-width="0.8" fill="none"/>
<rect x="241.75" y="248.35" width="3.3" height="3.3" fill="#00ffff"/>
<path d="M244.6 245.6V248.8M241.8 245.6H247.4M241.8 248.8H247.4" stroke="#00ffff" stroke-width="0.8" fill="none"/>
<rect x="242.95" y="245.55" width="3.3" height="3.3" fill="#00ffff"/>
<path d="M247 240.7V243.9M244.2 240.7H249.8M244.2 243.9H249.8" stroke="#00ffff" stroke-width="0.8" fill="none"/>
<rect x="245.35" y="240.65" width="3.3" height="3.3" fill="#00ffff"/>
<path d="M249.5 235.8V239M246.7 235.8H252.3M246.7 239H252.3" stroke="#00ffff" stroke-width="0.8" fill="none"/>
<rect x="247.85" y="235.75" width="3.3" height="3.3" fill="#00ffff"/>
<path d="M251 232.4V235.6M248.2 232.4H253.8M248.2 235.6H253.8" stroke="#00ffff" stroke-width="0.8" fill="none"/>
<rect x="249.35" y="232.35" width="3.3" height="3.3" fill="#00ffff"/>
<path d="M252.6 229.4V232.6M249.8 229.4H255.4M249.8 232.6H255.4" stroke="#00ffff" stroke-width="0.8" fill="none"/>
<rect x="250.95" y="229.35" width="3.3" height="3.3" fill="#00ffff"/>
<path d="M254 225.2V228.4M251.2 225.2H256.8M251.2 228.4H256.8" stroke="#00ffff" stroke-width="0.8" fill="none"/>
<rect x="252.35" y="225.15" width="3.3" height="3.3" fill="#00ffff"/>
<path d="M255.5 221V224.2M252.7 221H258.3M252.7 224.2H258.3" stroke="#00ffff" stroke-width="0.8" fill="none"/>
<rect x="253.85" y="220.95" width="3.3" height="3.3" fill="#00ffff"/>
<path d="M257 216.9V220.1M254.2 216.9H259.8M254.2 220.1H259.8" stroke="#00ffff" stroke-width="0.8" fill="none"/>
<rect x="255.35" y="216.85" width="3.3" height="3.3" fill="#00ffff"/>
<path d="M258.6 213V216.2M255.8 213H261.4M255.8 216.2H261.4" stroke="#00ffff" stroke-width="0.8" fill="none"/>
<rect x="256.95" y="212.95" width="3.3" height="3.3" fill="#00ffff"/>
<path d="M235.7 274.6V282.6M231.8 274.6H239.6M231.8 282.6H239.6" stroke="#00ffff" stroke-width="0.9" fill="none"/>
<rect x="233.2" y="276.1" width="5" height="5" fill="#00ffff"/>
<path d="M239.7 243.6V249.6M237.3 243.6H242.1M237.3 249.6H242.1" stroke="#ff0000" stroke-width="0.85" fill="none"/>
<path d="M239.7 245L238.31 247.56L241.09 247.56Z" fill="#ff0000"/>
<path d="M234.2 258.8V263.8M231.8 258.8H236.6M231.8 263.8H236.6" stroke="#ff0000" stroke-width="0.85" fill="none"/>
<path d="M234.2 259.7L232.81 262.26L235.59 262.26Z" fill="#ff0000"/>
<path d="M243.6 237V240.2M241.2 237H246M241.2 240.2H246" stroke="#ff0000" stroke-width="0.85" fill="none"/>
<path d="M243.6 237L242.21 239.56L244.99 239.56Z" fill="#ff0000"/>
<path d="M249.8 219.5V222.5M247.4 219.5H252.2M247.4 222.5H252.2" stroke="#ff0000" stroke-width="0.85" fill="none"/>
<path d="M249.8 219.4L248.41 221.96L251.19 221.96Z" fill="#ff0000"/>
<path d="M233.75 243.12V245.72M230.55 243.12H236.95M230.55 245.72H236.95" stroke="#0000ff" stroke-width="0.8" fill="none"/>
<path d="M236.17 240.23V242.83M233.05 240.23H239.3M233.05 242.83H239.3" stroke="#0000ff" stroke-width="0.8" fill="none"/>
<path d="M238.24 236.62V239.22M235.19 236.62H241.29M235.19 239.22H241.29" stroke="#0000ff" stroke-width="0.8" fill="none"/>
<path d="M238.24 236.52L237.02 238.76L239.46 238.76Z" fill="#0000ff"/>
<path d="M238.85 232.31V234.91M235.88 232.31H241.83M235.88 234.91H241.83" stroke="#0000ff" stroke-width="0.8" fill="none"/>
<path d="M240.58 229.48V232.08M237.68 229.48H243.48M237.68 232.08H243.48" stroke="#0000ff" stroke-width="0.8" fill="none"/>
<path d="M240.58 229.38L239.36 231.62L241.8 231.62Z" fill="#0000ff"/>
<path d="M243.24 224.72V227.32M240.42 224.72H246.07M240.42 227.32H246.07" stroke="#0000ff" stroke-width="0.8" fill="none"/>
<path d="M243.42 221.27V223.87M240.67 221.27H246.17M240.67 223.87H246.17" stroke="#0000ff" stroke-width="0.8" fill="none"/>
<path d="M243.42 221.17L242.2 223.41L244.64 223.41Z" fill="#0000ff"/>
<path d="M245.1 218.09V220.69M242.43 218.09H247.78M242.43 220.69H247.78" stroke="#0000ff" stroke-width="0.8" fill="none"/>
<path d="M247.33 214.15V216.75M244.73 214.15H249.93M244.73 216.75H249.93" stroke="#0000ff" stroke-width="0.8" fill="none"/>
<path d="M247.33 214.05L246.11 216.29L248.55 216.29Z" fill="#0000ff"/>
<path d="M247.86 210.82V213.42M245.33 210.82H250.38M245.33 213.42H250.38" stroke="#0000ff" stroke-width="0.8" fill="none"/>
<path d="M250.1 207.47V210.07M247.65 207.47H252.55M247.65 210.07H252.55" stroke="#0000ff" stroke-width="0.8" fill="none"/>
<path d="M250.1 207.37L248.88 209.61L251.32 209.61Z" fill="#0000ff"/>
<path d="M252.73 204.09V206.69M250.36 204.09H255.11M250.36 206.69H255.11" stroke="#0000ff" stroke-width="0.8" fill="none"/>
<path d="M253.53 200.39V202.99M251.23 200.39H255.83M251.23 202.99H255.83" stroke="#0000ff" stroke-width="0.8" fill="none"/>
<path d="M253.53 200.29L252.31 202.53L254.75 202.53Z" fill="#0000ff"/>
<path d="M233.7 244L231.79 247.52L235.61 247.52Z" fill="none" stroke="#0000ff" stroke-width="0.8"/>
<path d="M258.4 205.1V207.9M256 205.1H260.8M256 207.9H260.8" stroke="#0000ff" stroke-width="0.85" fill="none"/>
<path d="M258.4 205L257.09 207.4L259.7 207.4Z" fill="#0000ff"/>
<path d="M259.4 202.4V205.2M257 202.4H261.8M257 205.2H261.8" stroke="#0000ff" stroke-width="0.85" fill="none"/>
<path d="M259.4 202.3L258.09 204.7L260.7 204.7Z" fill="#0000ff"/>
<path d="M257.2 208.2V211M254.8 208.2H259.6M254.8 211H259.6" stroke="#0000ff" stroke-width="0.85" fill="none"/>
<path d="M257.2 208.1L255.89 210.5L258.5 210.5Z" fill="#0000ff"/>
<path d="M238.81 235.99V239.59M236.31 235.99H241.31M236.31 239.59H241.31" stroke="#00ff00" stroke-width="0.7" fill="none"/>
<circle cx="238.81" cy="237.79" r="1.8" fill="#00ff00"/>
<path d="M240.79 233.65V237.25M238.29 233.65H243.29M238.29 237.25H243.29" stroke="#00ff00" stroke-width="0.7" fill="none"/>
<circle cx="240.79" cy="235.45" r="1.8" fill="#00ff00"/>
<path d="M242.47 230.18V233.78M239.97 230.18H244.97M239.97 233.78H244.97" stroke="#00ff00" stroke-width="0.7" fill="none"/>
<circle cx="242.47" cy="231.98" r="1.8" fill="#00ff00"/>
<path d="M243.6 226.04V229.64M241.1 226.04H246.1M241.1 229.64H246.1" stroke="#00ff00" stroke-width="0.7" fill="none"/>
<circle cx="243.6" cy="227.84" r="1.8" fill="#00ff00"/>
<path d="M244.96 222.91V226.51M242.46 222.91H247.46M242.46 226.51H247.46" stroke="#00ff00" stroke-width="0.7" fill="none"/>
<circle cx="244.96" cy="224.71" r="1.8" fill="#00ff00"/>
<path d="M246.62 218.51V222.11M244.12 218.51H249.12M244.12 222.11H249.12" stroke="#00ff00" stroke-width="0.7" fill="none"/>
<circle cx="246.62" cy="220.31" r="1.8" fill="#00ff00"/>
<path d="M248.51 215.16V218.76M246.01 215.16H251.01M246.01 218.76H251.01" stroke="#00ff00" stroke-width="0.7" fill="none"/>
<circle cx="248.51" cy="216.96" r="1.8" fill="#00ff00"/>
<path d="M250.37 211.48V215.08M247.87 211.48H252.87M247.87 215.08H252.87" stroke="#00ff00" stroke-width="0.7" fill="none"/>
<circle cx="250.37" cy="213.28" r="1.8" fill="#00ff00"/>
<path d="M251.67 208.14V211.74M249.17 208.14H254.17M249.17 211.74H254.17" stroke="#00ff00" stroke-width="0.7" fill="none"/>
<circle cx="251.67" cy="209.94" r="1.8" fill="#00ff00"/>
<path d="M253.5 204.98V208.58M251 204.98H256M251 208.58H256" stroke="#00ff00" stroke-width="0.7" fill="none"/>
<circle cx="253.5" cy="206.78" r="1.8" fill="#00ff00"/>
<path d="M255.12 202.3V205.9M252.62 202.3H257.62M252.62 205.9H257.62" stroke="#00ff00" stroke-width="0.7" fill="none"/>
<circle cx="255.12" cy="204.1" r="1.8" fill="#00ff00"/>
<path d="M257.54 197.64V201.24M255.04 197.64H260.04M255.04 201.24H260.04" stroke="#00ff00" stroke-width="0.7" fill="none"/>
<circle cx="257.54" cy="199.44" r="1.8" fill="#00ff00"/>
<path d="M235.4 251.6L235.4 260M233.6 251.6L237.2 251.6M233.6 260L237.2 260" stroke="#00ff00" stroke-width="0.85" fill="none"/>
<circle cx="235.4" cy="255.8" r="1.7" fill="#00ff00"/>
<path d="M258.7 210.3L258.7 225.6M257.1 210.3L260.3 210.3M257.1 225.6L260.3 225.6M255.6 218.3L261.8 218.3M255.6 216.7L255.6 219.9M261.8 216.7L261.8 219.9" stroke="#00ff00" stroke-width="0.85" fill="none"/>
<circle cx="258.7" cy="218.3" r="1.9" fill="#00ff00"/>
<rect x="186" y="236.3" width="4.6" height="4.6" fill="#00ffff"/>
<rect x="190.6" y="242.5" width="4.6" height="4.6" fill="#00ffff"/>
<rect x="192.5" y="250.5" width="4.6" height="4.6" fill="#00ffff"/>
<rect x="186.55" y="231.75" width="4.9" height="4.9" fill="#ff0000"/>
<rect x="189.15" y="238.45" width="4.9" height="4.9" fill="#ff0000"/>
<rect x="193.05" y="245.95" width="4.9" height="4.9" fill="#ff0000"/>
<path d="M192.4 228.1V231.9M189.3 228.1H195.5M189.3 231.9H195.5" stroke="#0000ff" stroke-width="0.9" fill="none"/>
<path d="M192.4 228.1L190.4 231.78L194.4 231.78Z" fill="#0000ff"/>
<path d="M196.3 229.1V232.9M193.2 229.1H199.4M193.2 232.9H199.4" stroke="#0000ff" stroke-width="0.9" fill="none"/>
<path d="M196.3 229.1L194.3 232.78L198.3 232.78Z" fill="#0000ff"/>
<path d="M196.3 236.3V240.1M193.2 236.3H199.4M193.2 240.1H199.4" stroke="#0000ff" stroke-width="0.9" fill="none"/>
<path d="M196.3 236.3L194.3 239.98L198.3 239.98Z" fill="#0000ff"/>
<circle cx="175.6" cy="201.5" r="2.25" fill="#00ff00"/>
<circle cx="180.5" cy="208" r="2.25" fill="#00ff00"/>
<circle cx="186.8" cy="219" r="2.25" fill="#00ff00"/>
<circle cx="188.7" cy="224.5" r="2.25" fill="#00ff00"/>
<circle cx="190.3" cy="227.5" r="2.25" fill="#00ff00"/>
<circle cx="195.5" cy="234.5" r="2.25" fill="#00ff00"/>
<circle cx="195.5" cy="241" r="2.25" fill="#00ff00"/>
<rect x="187.2" y="277.9" width="4" height="4" fill="#ff6a00"/>
<rect x="189.8" y="280.5" width="4" height="4" fill="#ff6a00"/>
<rect x="192.9" y="283" width="4" height="4" fill="#ff6a00"/>
<rect x="193.8" y="271" width="4" height="4" fill="#ff6a00"/>
<rect x="193.8" y="275.3" width="4" height="4" fill="#ff6a00"/>
<rect x="186.9" y="289.3" width="3.4" height="3.4" fill="none" stroke="#000" stroke-width="1.0"/>
<rect x="189.5" y="289.3" width="3.4" height="3.4" fill="none" stroke="#000" stroke-width="1.0"/>
<rect x="192.1" y="289.3" width="3.4" height="3.4" fill="none" stroke="#000" stroke-width="1.0"/>
<rect x="194.6" y="289.3" width="3.4" height="3.4" fill="none" stroke="#000" stroke-width="1.0"/>
<rect x="195.8" y="283.9" width="3.4" height="3.4" fill="none" stroke="#000" stroke-width="1.0"/>
<path d="M271.7 119L271.7 139.7M271.7 119L271.7 119M271.7 139.7L271.7 139.7" stroke="#00ff00" stroke-width="0.9" fill="none"/>
<circle cx="271.6" cy="128.5" r="2.6" fill="#00ff00"/>
<path d="M271.5 148L271.5 166M271.5 148L271.5 148M271.5 166L271.5 166" stroke="#0000ff" stroke-width="0.9" fill="none"/>
<circle cx="271.6" cy="159.5" r="2.5" fill="#0000ff"/>
<circle cx="271.9" cy="165" r="2.3" fill="#ff0000"/>
<path d="M271.4 168L272 189.2L276 181" stroke="#ff3030" stroke-width="0.6" fill="none"/>
<path d="M276 176.2L276 183.3M274 176.2L278 176.2M274 183.3L278 183.3" stroke="#8a8a8a" stroke-width="0.8" fill="none"/>
<circle cx="276" cy="179.9" r="2.1" fill="#999"/>
<path d="M237.6 358L237.6 363.4M234.8 358L240.4 358M234.8 363.4L240.4 363.4" stroke="#000" stroke-width="1.0" fill="none"/>
<rect x="235.3" y="358.8" width="4.6" height="3.8" fill="#000"/>
<path d="M242.1 341.5L242.1 346.9M239.3 341.5L244.9 341.5M239.3 346.9L244.9 346.9" stroke="#000" stroke-width="1.0" fill="none"/>
<rect x="239.8" y="342.3" width="4.6" height="3.8" fill="#000"/>
<path d="M244.5 329.2L244.5 334.6M241.7 329.2L247.3 329.2M241.7 334.6L247.3 334.6" stroke="#000" stroke-width="1.0" fill="none"/>
<rect x="242.2" y="330" width="4.6" height="3.8" fill="#000"/>
<path d="M246.3 328.1L246.3 333.5M243.5 328.1L249.1 328.1M243.5 333.5L249.1 333.5" stroke="#000" stroke-width="1.0" fill="none"/>
<rect x="244" y="328.9" width="4.6" height="3.8" fill="#000"/>
<path d="M249.9 318.5L249.9 323.9M247.1 318.5L252.7 318.5M247.1 323.9L252.7 323.9" stroke="#000" stroke-width="1.0" fill="none"/>
<rect x="247.6" y="319.3" width="4.6" height="3.8" fill="#000"/>
<path d="M254.8 314.2L254.8 319.6M252 314.2L257.6 314.2M252 319.6L257.6 319.6" stroke="#000" stroke-width="1.0" fill="none"/>
<rect x="252.5" y="315" width="4.6" height="3.8" fill="#000"/>
<path d="M258 299.3L258 315.5M255.6 299.3L260.4 299.3M255.6 315.5L260.4 315.5" stroke="#000" stroke-width="1.0" fill="none"/>
<circle cx="258" cy="308" r="1.9" fill="#000"/>
<path d="M345.6 186.4L345.6 197M344.2 186.4L347 186.4M344.2 197L347 197M343.4 191.4L347.8 191.4M343.4 190L343.4 192.8M347.8 190L347.8 192.8" stroke="#000" stroke-width="0.9" fill="none"/>
<rect x="343.95" y="189.75" width="3.3" height="3.3" fill="#000"/>
<path d="M349 194L349 198M347.6 194L350.4 194M347.6 198L350.4 198M346.8 195.9L351.2 195.9M346.8 194.5L346.8 197.3M351.2 194.5L351.2 197.3" stroke="#000" stroke-width="0.9" fill="none"/>
<rect x="347.35" y="194.25" width="3.3" height="3.3" fill="#000"/>
<path d="M352 194L352 198.3M350.6 194L353.4 194M350.6 198.3L353.4 198.3M349.8 196.1L354.2 196.1M349.8 194.7L349.8 197.5M354.2 194.7L354.2 197.5" stroke="#000" stroke-width="0.9" fill="none"/>
<rect x="350.35" y="194.45" width="3.3" height="3.3" fill="#000"/>
<path d="M355.9 205L355.9 209M354.5 205L357.3 205M354.5 209L357.3 209M353.7 207L358.1 207M353.7 205.6L353.7 208.4M358.1 205.6L358.1 208.4" stroke="#000" stroke-width="0.9" fill="none"/>
<rect x="354.25" y="205.35" width="3.3" height="3.3" fill="#000"/>
<path d="M361 215.8L361 219.8M359.6 215.8L362.4 215.8M359.6 219.8L362.4 219.8M358.8 217.8L363.2 217.8M358.8 216.4L358.8 219.2M363.2 216.4L363.2 219.2" stroke="#000" stroke-width="0.9" fill="none"/>
<rect x="359.35" y="216.15" width="3.3" height="3.3" fill="#000"/>
<path d="M365.8 227.5L365.8 232M364.4 227.5L367.2 227.5M364.4 232L367.2 232M363.6 229.8L368 229.8M363.6 228.4L363.6 231.2M368 228.4L368 231.2" stroke="#000" stroke-width="0.9" fill="none"/>
<rect x="364.15" y="228.15" width="3.3" height="3.3" fill="#000"/>
<path d="M371.8 237.3L371.8 248.5M370.4 237.3L373.2 237.3M370.4 248.5L373.2 248.5M369.6 242.5L374 242.5M369.6 241.1L369.6 243.9M374 241.1L374 243.9" stroke="#000" stroke-width="0.9" fill="none"/>
<rect x="370.15" y="240.85" width="3.3" height="3.3" fill="#000"/>
<path d="M376.5 272.5L376.5 292.9M375.1 272.5L377.9 272.5M375.1 292.9L377.9 292.9M373.9 281.6L379.1 281.6M373.9 280.2L373.9 283M379.1 280.2L379.1 283" stroke="#000" stroke-width="0.9" fill="none"/>
<rect x="374.85" y="279.95" width="3.3" height="3.3" fill="#000"/>
<path d="M382.1 293L382.1 331.3M380.7 293L383.5 293M380.7 331.3L383.5 331.3M379.1 308.3L385.1 308.3M379.1 306.9L379.1 309.7M385.1 306.9L385.1 309.7" stroke="#000" stroke-width="0.9" fill="none"/>
<rect x="380.45" y="306.65" width="3.3" height="3.3" fill="#000"/>
<path d="M345.9 124L345.9 144.4M344.2 124L347.6 124M344.2 144.4L347.6 144.4M343.4 133.5L348.4 133.5M343.4 131.8L343.4 135.2M348.4 131.8L348.4 135.2" stroke="#ff6a00" stroke-width="0.95" fill="none"/>
<circle cx="345.9" cy="133.5" r="2" fill="#ff6a00"/>
<path d="M351.2 140L351.2 156.5M349.5 140L352.9 140M349.5 156.5L352.9 156.5M348.7 147.5L353.7 147.5M348.7 145.8L348.7 149.2M353.7 145.8L353.7 149.2" stroke="#ff6a00" stroke-width="0.95" fill="none"/>
<circle cx="351.2" cy="147.5" r="2" fill="#ff6a00"/>
<path d="M356.3 160.4L356.3 184.5M354.6 160.4L358 160.4M354.6 184.5L358 184.5M353.4 170.7L359.2 170.7M353.4 169L353.4 172.4M359.2 169L359.2 172.4" stroke="#ff6a00" stroke-width="0.95" fill="none"/>
<circle cx="356.3" cy="170.7" r="2" fill="#ff6a00"/>
<path d="M361.1 166.4L361.1 195.8M359.4 166.4L362.8 166.4M359.4 195.8L362.8 195.8M358.4 178.5L363.8 178.5M358.4 176.8L358.4 180.2M363.8 176.8L363.8 180.2" stroke="#ff6a00" stroke-width="0.95" fill="none"/>
<circle cx="361.1" cy="178.5" r="2" fill="#ff6a00"/>
<path d="M369.2 197.5L369.2 243M367.5 197.5L370.9 197.5M367.5 243L370.9 243M363.2 214.8L374.4 214.8M363.2 213.1L363.2 216.5M374.4 213.1L374.4 216.5" stroke="#ff6a00" stroke-width="0.95" fill="none"/>
<circle cx="369.2" cy="214.8" r="2" fill="#ff6a00"/>
<path d="M355 90L355 100M353.3 90L356.7 90M353.3 100L356.7 100M352.5 95L357.5 95M352.5 93.3L352.5 96.7M357.5 93.3L357.5 96.7" stroke="#00ffff" stroke-width="0.95" fill="none"/>
<rect x="353.35" y="93.35" width="3.3" height="3.3" fill="#00ffff"/>
<path d="M363.2 99L363.2 112M361.5 99L364.9 99M361.5 112L364.9 112M360.6 105.6L365.8 105.6M360.6 103.9L360.6 107.3M365.8 103.9L365.8 107.3" stroke="#00ffff" stroke-width="0.95" fill="none"/>
<rect x="361.55" y="103.95" width="3.3" height="3.3" fill="#00ffff"/>
<path d="M370.9 102.8L370.9 124.2M369.2 102.8L372.6 102.8M369.2 124.2L372.6 124.2M368.2 112L373.6 112M368.2 110.3L368.2 113.7M373.6 110.3L373.6 113.7" stroke="#00ffff" stroke-width="0.95" fill="none"/>
<rect x="369.25" y="110.35" width="3.3" height="3.3" fill="#00ffff"/>
<path d="M379.5 139.3L379.5 193.1M377.8 139.3L381.2 139.3M377.8 193.1L381.2 193.1M376.4 156.6L382.6 156.6M376.4 154.9L376.4 158.3M382.6 154.9L382.6 158.3" stroke="#00ffff" stroke-width="0.95" fill="none"/>
<rect x="377.85" y="154.95" width="3.3" height="3.3" fill="#00ffff"/>
<path d="M346 68.5L346 85.5M344.3 68.5L347.7 68.5M344.3 85.5L347.7 85.5M343 76.1L349 76.1M343 74.4L343 77.8M349 74.4L349 77.8" stroke="#ff0000" stroke-width="0.95" fill="none"/>
<rect x="344.35" y="74.45" width="3.3" height="3.3" fill="#ff0000"/>
<path d="M351.2 72L351.2 80M349.5 72L352.9 72M349.5 80L352.9 80M348.5 76.1L354 76.1M348.5 74.4L348.5 77.8M354 74.4L354 77.8" stroke="#ff0000" stroke-width="0.95" fill="none"/>
<rect x="349.55" y="74.45" width="3.3" height="3.3" fill="#ff0000"/>
<path d="M357 84L357 95M355.3 84L358.7 84M355.3 95L358.7 95M354.3 89.7L359.7 89.7M354.3 88L354.3 91.4M359.7 88L359.7 91.4" stroke="#ff0000" stroke-width="0.95" fill="none"/>
<rect x="355.35" y="88.05" width="3.3" height="3.3" fill="#ff0000"/>
<path d="M361.4 89L361.4 102M359.7 89L363.1 89M359.7 102L363.1 102M358.7 95L364.1 95M358.7 93.3L358.7 96.7M364.1 93.3L364.1 96.7" stroke="#ff0000" stroke-width="0.95" fill="none"/>
<rect x="359.75" y="93.35" width="3.3" height="3.3" fill="#ff0000"/>
<path d="M366.3 118L366.3 141.4M364.6 118L368 118M364.6 141.4L368 141.4M363 127.8L369.4 127.8M363 126.1L363 129.5M369.4 126.1L369.4 129.5" stroke="#ff0000" stroke-width="0.95" fill="none"/>
<rect x="364.65" y="126.15" width="3.3" height="3.3" fill="#ff0000"/>
<path d="M377 139.1L377 171.8M375.3 139.1L378.7 139.1M375.3 171.8L378.7 171.8M368.9 152L384.6 152M368.9 150.3L368.9 153.7M384.6 150.3L384.6 153.7" stroke="#ff0000" stroke-width="0.95" fill="none"/>
<rect x="375.35" y="150.35" width="3.3" height="3.3" fill="#ff0000"/>
<path d="M346 55L346 67.5M344.3 55L347.7 55M344.3 67.5L347.7 67.5M343 61L349 61M343 59.3L343 62.7M349 59.3L349 62.7" stroke="#00ff00" stroke-width="0.95" fill="none"/>
<circle cx="346" cy="61" r="2" fill="#00ff00"/>
<path d="M351.2 59.5L351.2 66M349.5 59.5L352.9 59.5M349.5 66L352.9 66M348.5 62.8L354 62.8M348.5 61.1L348.5 64.5M354 61.1L354 64.5" stroke="#00ff00" stroke-width="0.95" fill="none"/>
<circle cx="351.2" cy="62.8" r="2" fill="#00ff00"/>
<path d="M357.2 71L357.2 80M355.5 71L358.9 71M355.5 80L358.9 80M354.5 75.4L360 75.4M354.5 73.7L354.5 77.1M360 73.7L360 77.1" stroke="#00ff00" stroke-width="0.95" fill="none"/>
<circle cx="357.2" cy="75.4" r="2" fill="#00ff00"/>
<path d="M364.8 71L364.8 80M363.1 71L366.5 71M363.1 80L366.5 80M362 75.4L367.6 75.4M362 73.7L362 77.1M367.6 73.7L367.6 77.1" stroke="#00ff00" stroke-width="0.95" fill="none"/>
<circle cx="364.8" cy="75.4" r="2" fill="#00ff00"/>
<path d="M369.6 82L369.6 97M367.9 82L371.3 82M367.9 97L371.3 97M366.8 89.7L372.4 89.7M366.8 88L366.8 91.4M372.4 88L372.4 91.4" stroke="#00ff00" stroke-width="0.95" fill="none"/>
<circle cx="369.6" cy="89.7" r="2" fill="#00ff00"/>
<path d="M375 85L375 105M373.3 85L376.7 85M373.3 105L376.7 105M372 95.8L378 95.8M372 94.1L372 97.5M378 94.1L378 97.5" stroke="#00ff00" stroke-width="0.95" fill="none"/>
<circle cx="375" cy="95.8" r="2" fill="#00ff00"/>
<path d="M383.7 105.9L383.7 145M382 105.9L385.4 105.9M382 145L385.4 145M378.4 121.3L389.7 121.3M378.4 119.6L378.4 123M389.7 119.6L389.7 123" stroke="#00ff00" stroke-width="0.95" fill="none"/>
<circle cx="383.7" cy="121.3" r="2" fill="#00ff00"/>
<path d="M345.9 39.4L345.9 48.9M344.2 39.4L347.6 39.4M344.2 48.9L347.6 48.9M343.3 44.7L348.9 44.7M343.3 43L343.3 46.4M348.9 43L348.9 46.4" stroke="#0000ff" stroke-width="0.95" fill="none"/>
<rect x="344.15" y="42.95" width="3.5" height="3.5" fill="#0000ff"/>
<path d="M351.2 47.5L351.2 53.5M349.5 47.5L352.9 47.5M349.5 53.5L352.9 53.5M348.5 50.4L354 50.4M348.5 48.7L348.5 52.1M354 48.7L354 52.1" stroke="#0000ff" stroke-width="0.95" fill="none"/>
<rect x="349.45" y="48.65" width="3.5" height="3.5" fill="#0000ff"/>
<path d="M356.9 54.5L356.9 61M355.2 54.5L358.6 54.5M355.2 61L358.6 61M354.2 58L359.6 58M354.2 56.3L354.2 59.7M359.6 56.3L359.6 59.7" stroke="#0000ff" stroke-width="0.95" fill="none"/>
<rect x="355.15" y="56.25" width="3.5" height="3.5" fill="#0000ff"/>
<path d="M361.8 66.5L361.8 74M360.1 66.5L363.5 66.5M360.1 74L363.5 74M359 70.5L364.6 70.5M359 68.8L359 72.2M364.6 68.8L364.6 72.2" stroke="#0000ff" stroke-width="0.95" fill="none"/>
<rect x="360.05" y="68.75" width="3.5" height="3.5" fill="#0000ff"/>
<path d="M366.7 70L366.7 82M365 70L368.4 70M365 82L368.4 82M364 76.6L369.4 76.6M364 74.9L364 78.3M369.4 74.9L369.4 78.3" stroke="#0000ff" stroke-width="0.95" fill="none"/>
<rect x="364.95" y="74.85" width="3.5" height="3.5" fill="#0000ff"/>
<path d="M372 83L372 102M370.3 83L373.7 83M370.3 102L373.7 102M369 93.5L375 93.5M369 91.8L369 95.2M375 91.8L375 95.2" stroke="#0000ff" stroke-width="0.95" fill="none"/>
<rect x="370.25" y="91.75" width="3.5" height="3.5" fill="#0000ff"/>
<path d="M379.3 101.4L379.3 132.5M377.6 101.4L381 101.4M377.6 132.5L381 132.5M376 114.3L382.4 114.3M376 112.6L376 116M382.4 112.6L382.4 116" stroke="#0000ff" stroke-width="0.95" fill="none"/>
<rect x="377.55" y="112.55" width="3.5" height="3.5" fill="#0000ff"/>
<path d="M335.3 218.4L357.6 197" stroke="#808080" stroke-width="0.8" fill="none"/>
<path d="M358.6 196L351.2 199.6L355 203.4Z" fill="#808080"/>
<path d="M292.6 295.2L284.4 272.7" stroke="#707070" stroke-width="0.85" fill="none"/>
<path d="M284.4 272.7L285.3 282.3L287.6 280.2L290.3 280.5Z" fill="#707070" stroke="#707070" stroke-width="0.4"/>
</g>
<rect x="71.7" y="26.5" width="324.7" height="374.6" fill="none" stroke="#000" stroke-width="1.0"/>
<path d="M91.99 401.1v-10.4M91.99 26.5v10.4M112.29 401.1v-5.3M112.29 26.5v5.3M132.58 401.1v-5.3M132.58 26.5v5.3M152.88 401.1v-5.3M152.88 26.5v5.3M173.17 401.1v-5.3M173.17 26.5v5.3M193.46 401.1v-10.4M193.46 26.5v10.4M213.76 401.1v-5.3M213.76 26.5v5.3M234.05 401.1v-5.3M234.05 26.5v5.3M254.34 401.1v-5.3M254.34 26.5v5.3M274.64 401.1v-5.3M274.64 26.5v5.3M294.93 401.1v-10.4M294.93 26.5v10.4M315.22 401.1v-5.3M315.22 26.5v5.3M335.52 401.1v-5.3M335.52 26.5v5.3M355.81 401.1v-5.3M355.81 26.5v5.3M376.11 401.1v-5.3M376.11 26.5v5.3M71.7 382.37h10.4M71.7 363.64h5.3M71.7 344.91h5.3M71.7 326.18h5.3M71.7 307.45h5.3M71.7 288.72h10.4M71.7 269.99h5.3M71.7 251.26h5.3M71.7 232.53h5.3M71.7 213.8h5.3M71.7 195.07h10.4M71.7 176.34h5.3M71.7 157.61h5.3M71.7 138.88h5.3M71.7 120.15h5.3M71.7 101.42h10.4M71.7 82.69h5.3M71.7 63.96h5.3M71.7 45.23h5.3M396.4 396.99h-5.3M396.4 378.26h-5.3M396.4 359.53h-5.3M396.4 340.8h-10.4M396.4 322.07h-5.3M396.4 303.34h-5.3M396.4 284.61h-5.3M396.4 265.88h-5.3M396.4 247.15h-10.4M396.4 228.42h-5.3M396.4 209.69h-5.3M396.4 190.96h-5.3M396.4 172.23h-5.3M396.4 153.5h-10.4M396.4 134.77h-5.3M396.4 116.04h-5.3M396.4 97.31h-5.3M396.4 78.58h-5.3M396.4 59.85h-10.4M396.4 41.12h-5.3" stroke="#000" stroke-width="0.95" fill="none"/>
<path d="M91.7 389V400.6" stroke="#8a8a8a" stroke-width="1.5"/>
<text x="84.8" y="420.8" font-size="16.8" fill="#000" stroke="#000" stroke-width="0.26" textLength="15.4" lengthAdjust="spacingAndGlyphs" >10</text>
<text x="185.9" y="420.8" font-size="16.8" fill="#000" stroke="#000" stroke-width="0.26" textLength="16" lengthAdjust="spacingAndGlyphs" >15</text>
<text x="286.7" y="420.8" font-size="16.8" fill="#000" stroke="#000" stroke-width="0.26" textLength="16.6" lengthAdjust="spacingAndGlyphs" >20</text>
<text x="388.2" y="420.8" font-size="16.8" fill="#000" stroke="#000" stroke-width="0.26" textLength="17.2" lengthAdjust="spacingAndGlyphs" >25</text>
<text x="43.3" y="107.02" font-size="16.8" fill="#000" stroke="#000" stroke-width="0.26" textLength="9" lengthAdjust="spacingAndGlyphs" >−</text>
<text x="54" y="107.02" font-size="16.8" fill="#000" stroke="#000" stroke-width="0.26" textLength="8.6" lengthAdjust="spacingAndGlyphs" >9</text>
<text x="33.5" y="200.67" font-size="16.8" fill="#000" stroke="#000" stroke-width="0.26" textLength="9" lengthAdjust="spacingAndGlyphs" >−</text>
<text x="45" y="200.67" font-size="16.8" fill="#000" stroke="#000" stroke-width="0.26" textLength="17.4" lengthAdjust="spacingAndGlyphs" >10</text>
<text x="33.5" y="294.32" font-size="16.8" fill="#000" stroke="#000" stroke-width="0.26" textLength="9" lengthAdjust="spacingAndGlyphs" >−</text>
<text x="45" y="294.32" font-size="16.8" fill="#000" stroke="#000" stroke-width="0.26" textLength="17.4" lengthAdjust="spacingAndGlyphs" >11</text>
<text x="33.5" y="387.97" font-size="16.8" fill="#000" stroke="#000" stroke-width="0.26" textLength="9" lengthAdjust="spacingAndGlyphs" >−</text>
<text x="45" y="387.97" font-size="16.8" fill="#000" stroke="#000" stroke-width="0.26" textLength="17.4" lengthAdjust="spacingAndGlyphs" >12</text>
<text x="405.6" y="346.4" font-size="16.8" fill="#000" stroke="#000" stroke-width="0.26" textLength="17.1" lengthAdjust="spacingAndGlyphs" >46</text>
<text x="405.6" y="252.75" font-size="16.8" fill="#000" stroke="#000" stroke-width="0.26" textLength="17.1" lengthAdjust="spacingAndGlyphs" >47</text>
<text x="405.6" y="159.1" font-size="16.8" fill="#000" stroke="#000" stroke-width="0.26" textLength="17.1" lengthAdjust="spacingAndGlyphs" >48</text>
<text x="405.6" y="65.45" font-size="16.8" fill="#000" stroke="#000" stroke-width="0.26" textLength="17.1" lengthAdjust="spacingAndGlyphs" >49</text>
<text x="193.1" y="442.8" font-size="16.8" fill="#000" stroke="#000" stroke-width="0.26" textLength="24.6" lengthAdjust="spacingAndGlyphs" >Log</text>
<text x="226" y="442.8" font-size="16.8" fill="#000" stroke="#000" stroke-width="0.26" textLength="7.6" lengthAdjust="spacingAndGlyphs" font-style="italic" >ν</text>
<text x="243.4" y="444.3" font-size="19.82" fill="#000" stroke="#000" stroke-width="0.26" textLength="5.2" lengthAdjust="spacingAndGlyphs" >[</text>
<text x="249.4" y="442.8" font-size="16.8" fill="#000" stroke="#000" stroke-width="0.26" textLength="19.2" lengthAdjust="spacingAndGlyphs" >Hz</text>
<text x="269.6" y="444.3" font-size="19.82" fill="#000" stroke="#000" stroke-width="0.26" textLength="5.2" lengthAdjust="spacingAndGlyphs" >]</text>
<g transform="translate(21 306.5) rotate(-90)">
<text x="0" y="0" font-size="16.8" fill="#000" stroke="#000" stroke-width="0.26" textLength="26.5" lengthAdjust="spacingAndGlyphs" >Log</text>
<text x="36.6" y="0" font-size="17.8" fill="#000" stroke="#000" stroke-width="0.26" textLength="8.2" lengthAdjust="spacingAndGlyphs" font-style="italic" >ν</text>
<text x="45.8" y="0" font-size="16.8" fill="#000" stroke="#000" stroke-width="0.26" textLength="8.4" lengthAdjust="spacingAndGlyphs" >F</text>
<text x="56" y="3.2" font-size="11" fill="#000" stroke="#000" stroke-width="0.18" textLength="5.2" lengthAdjust="spacingAndGlyphs" font-style="italic" >ν</text>
<text x="69" y="1.5" font-size="19.82" fill="#000" stroke="#000" stroke-width="0.26" textLength="5.2" lengthAdjust="spacingAndGlyphs" >[</text>
<text x="77.2" y="0" font-size="16.8" fill="#000" stroke="#000" stroke-width="0.26" textLength="24.2" lengthAdjust="spacingAndGlyphs" >erg</text>
<text x="108.3" y="0" font-size="16.8" fill="#000" stroke="#000" stroke-width="0.26" textLength="5.9" lengthAdjust="spacingAndGlyphs" >s</text>
<text x="116.4" y="-5.2" font-size="10.5" fill="#000" stroke="#000" stroke-width="0.18" textLength="15.2" lengthAdjust="spacingAndGlyphs" >−1</text>
<text x="141" y="0" font-size="16.8" fill="#000" stroke="#000" stroke-width="0.26" textLength="18.6" lengthAdjust="spacingAndGlyphs" >cm</text>
<text x="161.8" y="-5.2" font-size="10.5" fill="#000" stroke="#000" stroke-width="0.18" textLength="17" lengthAdjust="spacingAndGlyphs" >−2</text>
<text x="179.6" y="1.5" font-size="19.82" fill="#000" stroke="#000" stroke-width="0.26" textLength="5.4" lengthAdjust="spacingAndGlyphs" >]</text>
</g>
<g transform="translate(446.0 292.5) rotate(-90)">
<text x="0" y="0" font-size="16.8" fill="#000" stroke="#000" stroke-width="0.26" textLength="27.3" lengthAdjust="spacingAndGlyphs" >Log</text>
<text x="36" y="0" font-size="17.8" fill="#000" stroke="#000" stroke-width="0.26" textLength="7.8" lengthAdjust="spacingAndGlyphs" font-style="italic" >ν</text>
<text x="43.8" y="0" font-size="16.8" fill="#000" stroke="#000" stroke-width="0.26" textLength="11" lengthAdjust="spacingAndGlyphs" >L</text>
<text x="53.4" y="3.4" font-size="11" fill="#000" stroke="#000" stroke-width="0.18" textLength="5.8" lengthAdjust="spacingAndGlyphs" font-style="italic" >ν</text>
<text x="68.4" y="1.5" font-size="19.82" fill="#000" stroke="#000" stroke-width="0.26" textLength="5.2" lengthAdjust="spacingAndGlyphs" >[</text>
<text x="75.6" y="0" font-size="16.8" fill="#000" stroke="#000" stroke-width="0.26" textLength="25.9" lengthAdjust="spacingAndGlyphs" >erg</text>
<text x="110.3" y="0" font-size="16.8" fill="#000" stroke="#000" stroke-width="0.26" textLength="6.6" lengthAdjust="spacingAndGlyphs" >s</text>
<text x="118.3" y="-5.2" font-size="10.5" fill="#000" stroke="#000" stroke-width="0.18" textLength="14.6" lengthAdjust="spacingAndGlyphs" >−1</text>
<text x="132.5" y="1.5" font-size="19.82" fill="#000" stroke="#000" stroke-width="0.26" textLength="5.2" lengthAdjust="spacingAndGlyphs" >]</text>
</g>
<text x="92.3" y="64.9" font-size="13.8" fill="#000" stroke="#000" stroke-width="0.26" textLength="15.3" lengthAdjust="spacingAndGlyphs" >3C</text>
<text x="115.2" y="64.9" font-size="13.8" fill="#000" stroke="#000" stroke-width="0.26" textLength="35.4" lengthAdjust="spacingAndGlyphs" >454.3</text>
<text x="92.8" y="93" font-size="13.8" fill="#000" stroke="#000" stroke-width="0.26" textLength="52.7" lengthAdjust="spacingAndGlyphs" >z=0.859</text>
<text x="152.9" y="130.3" font-size="11.3" fill="#8c8c8c" stroke="#8c8c8c" stroke-width="0.18" textLength="24.2" lengthAdjust="spacingAndGlyphs" >2005</text>
<text x="182.8" y="130.3" font-size="11.3" fill="#8c8c8c" stroke="#8c8c8c" stroke-width="0.18" textLength="24.5" lengthAdjust="spacingAndGlyphs" >flare</text>
<text x="366.5" y="55.5" font-size="12.3" fill="#000" stroke="#000" stroke-width="0.18" textLength="27.2" lengthAdjust="spacingAndGlyphs" >2/12</text>
<text x="336" y="116.6" font-size="12.3" fill="#0000ff" stroke="#0000ff" stroke-width="0.18" textLength="32" lengthAdjust="spacingAndGlyphs" >27/11</text>
<text x="294.9" y="167.2" font-size="12.3" fill="#ff0000" stroke="#ff0000" stroke-width="0.18" textLength="26.4" lengthAdjust="spacingAndGlyphs" >6/11</text>
<text x="253.8" y="111.4" font-size="12.3" fill="#006400" stroke="#006400" stroke-width="0.18" textLength="29" lengthAdjust="spacingAndGlyphs" >3/12</text>
<g transform="translate(311.2 94.2) rotate(-31.5)">
<text x="0" y="0" font-size="12.3" fill="#ff6a00" stroke="#ff6a00" stroke-width="0.18" textLength="28" lengthAdjust="spacingAndGlyphs" >1/12</text>
</g>
<text x="315.6" y="233.2" font-size="11.8" fill="#8c8c8c" stroke="#8c8c8c" stroke-width="0.18" textLength="32.5" lengthAdjust="spacingAndGlyphs" >EGRET</text>
<text x="285.1" y="307.8" font-size="11.5" fill="#8c8c8c" stroke="#8c8c8c" stroke-width="0.18" textLength="18.1" lengthAdjust="spacingAndGlyphs" >SAX</text>
<text x="346.6" y="270.3" font-size="11" fill="#000" stroke="#000" stroke-width="0.18" textLength="17.1" lengthAdjust="spacingAndGlyphs" font-weight="bold" >low</text>
</svg>
</body></html>
